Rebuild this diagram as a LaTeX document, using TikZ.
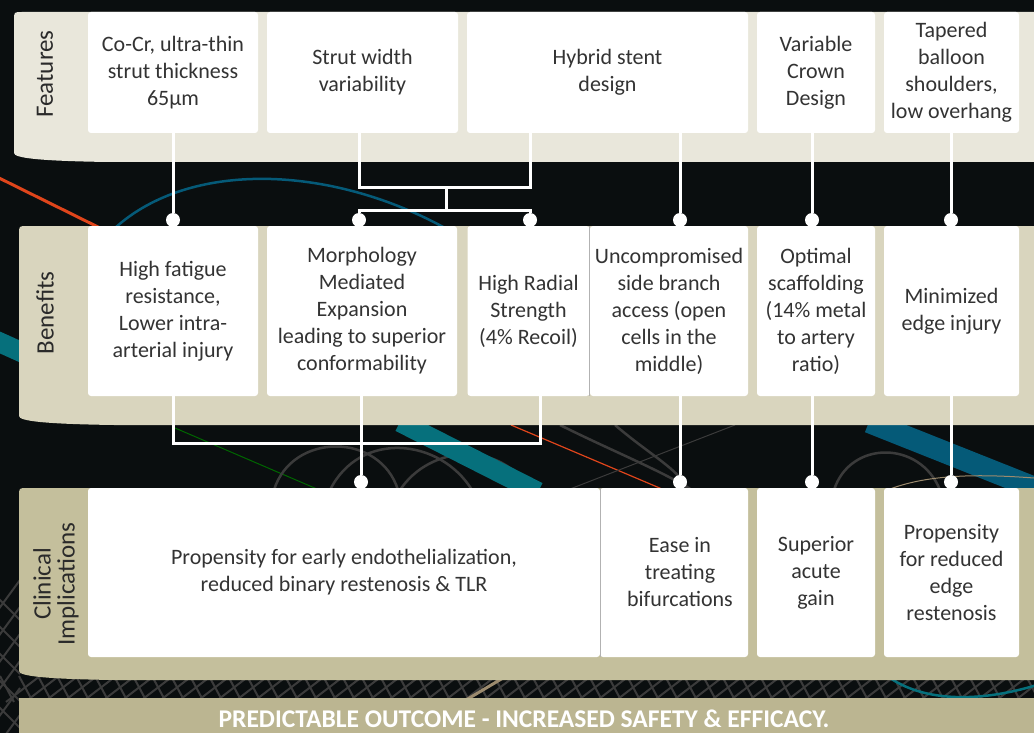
\documentclass[tikz,border=0pt]{standalone}
\usepackage{fontspec}
\setmainfont{Carlito}

\definecolor{bgblack}{HTML}{0A0E0F}
\definecolor{featband}{HTML}{E9E7DB}
\definecolor{benband}{HTML}{D9D5BE}
\definecolor{clinband}{HTML}{C4BF9C}
\definecolor{outband}{HTML}{BBB591}
\definecolor{txtgray}{HTML}{333333}
\definecolor{sidegray}{HTML}{2A2A2A}
\definecolor{tealdark}{HTML}{06707C}
\definecolor{tealblue}{HTML}{055A78}
\definecolor{redline}{HTML}{E0451B}
\definecolor{arcgray}{HTML}{3B3B3B}
\definecolor{tanline}{HTML}{9C8B6E}

% band with rounded top left corner and swept lower left corner: x0, ytop, ybot, colour
\newcommand{\bandshape}[4]{%
  \fill[#4] (#1,#3-9) -- (#1,#2+8) .. controls (#1,#2) .. (#1+8,#2) -- (1040,#2) -- (1040,#3)
    -- (#1+95,#3) .. controls (#1+25,#3-1) and (#1,#3-4) .. cycle;}

\begin{document}
\begin{tikzpicture}[x=1pt, y=-1pt,
    box/.style={fill=white, rounded corners=3pt, align=center, text=txtgray, inner sep=0pt,
      font=\fontsize{22}{27}\selectfont},
    side/.style={rotate=90, align=center, text=sidegray, font=\fontsize{25}{24}\selectfont},
    link/.style={draw=white, line width=3pt},
    dot/.style={circle, fill=white, inner sep=0pt, minimum size=14pt},
    divider/.style={draw=gray!60, line width=1.2pt},
    arcline/.style={draw=arcgray, line width=2.5pt},
    hatch/.style={draw=arcgray, line width=2pt}]
  \useasboundingbox (0,0) rectangle (1034,733);
  \fill[bgblack] (0,0) rectangle (1034,733);

  \begin{scope}
    \clip (0,0) rectangle (1034,733);
    % background streaks
    \draw[redline, line width=3pt] (-5,176) -- (100,228);
    \draw[tealblue, line width=2.5pt] (115,228) .. controls (190,160) and (330,165) .. (445,228);
    \draw[tealdark, line width=20pt] (-10,338) -- (30,356);
    \draw[green!40!black, line width=1pt] (175,428) -- (317,489);
    \draw[arcline] (274,490) .. controls (292,432) and (380,432) .. (398,490);
    \draw[arcline] (330,490) .. controls (360,430) and (440,438) .. (472,490);
    \draw[arcline] (400,490) .. controls (430,445) and (500,440) .. (530,490);
    \draw[arcline] (560,425) .. controls (610,450) and (660,470) .. (692,490);
    \draw[arcline] (615,425) .. controls (650,455) and (680,470) .. (688,490);
    \draw[arcline] (834,490) .. controls (850,440) and (920,440) .. (940,490);
    \draw[tealdark, line width=20pt] (400,422) -- (538,492);
    \draw[redline, line width=1.2pt] (511,425) -- (662,489);
    \draw[arcgray, line width=1pt] (735,425) -- (570,489);
    \draw[tealblue, line width=22pt] (869,422) -- (1045,492);
    \draw[tanline, line width=1pt] (890,489) .. controls (930,474) and (980,474) .. (1034,478);
    % hatching below the clinical band and in the left margin
    \foreach \x in {0,19,...,1040}
      {\draw[hatch] (\x,676) -- (\x+14,702);
       \draw[hatch] (\x+6,702) -- (\x+40,676);}
    \foreach \y in {610,637,...,760}
      {\draw[hatch] (-2,\y) -- (20,\y-30);
       \draw[hatch] (-2,\y-12) -- (20,\y+10);}
    \draw[tanline, line width=3pt] (503,678) -- (466,700);
    \draw[tealdark, line width=2.5pt] (890,678) .. controls (930,705) and (990,700) .. (1040,684);

    % bands
    \bandshape{14}{12}{162}{featband}
    \bandshape{19}{226}{425}{benband}
    \bandshape{19}{488}{680}{clinband}
    \fill[outband] (19,698) rectangle (1040,740);
  \end{scope}

  % side labels
  \node[side] (feat) at (45,74) {Features};
  \node[side] (ben) at (45,313) {Benefits};
  \node[side] (clin) at (56,584) {Clinical\\Implications};

  % features
  \node[box, minimum width=170pt, minimum height=121pt] (f1) at (173,72.5) {Co-Cr, ultra-thin\\strut thickness\\65µm};
  \node[box, minimum width=191pt, minimum height=121pt] (f2) at (362.5,72.5) {Strut width\\variability};
  \node[box, minimum width=281pt, minimum height=121pt] (f3) at (607.5,72.5) {Hybrid stent\\design};
  \node[box, minimum width=118pt, minimum height=121pt] (f4) at (816,72.5) {Variable\\Crown\\Design};
  \node[box, minimum width=135pt, minimum height=121pt] (f5) at (951.5,72.5) {Tapered\\balloon\\shoulders,\\low overhang};

  % benefits
  \node[box, minimum width=170pt, minimum height=170pt] (b1) at (173,311) {High fatigue\\resistance,\\Lower intra-\\arterial injury};
  \node[box, minimum width=190pt, minimum height=170pt] (b2) at (362,311) {Morphology\\Mediated\\Expansion\\leading to superior\\conformability};
  \node[box, minimum width=122pt, minimum height=170pt] (b3) at (528.5,311) {High Radial\\Strength\\(4\% Recoil)};
  \node[box, minimum width=158pt, minimum height=170pt] (b4) at (669,311) {Uncompromised\\side branch\\access (open\\cells in the\\middle)};
  \node[box, minimum width=118pt, minimum height=170pt] (b5) at (816,311) {Optimal\\scaffolding\\(14\% metal\\to artery\\ratio)};
  \node[box, minimum width=135pt, minimum height=170pt] (b6) at (951.5,311) {Minimized\\edge injury};
  \draw[divider] (b3.north east) -- (b3.south east);

  % clinical implications
  \node[box, minimum width=512pt, minimum height=169pt] (c1) at (344,572.5) {Propensity for early endothelialization,\\reduced binary restenosis \& TLR};
  \node[box, minimum width=148pt, minimum height=169pt] (c2) at (674,572.5) {\hspace*{12pt}Ease in\\\hspace*{12pt}treating\\\hspace*{12pt}bifurcations};
  \node[box, minimum width=118pt, minimum height=169pt] (c3) at (816,572.5) {Superior\\acute\\gain};
  \node[box, minimum width=135pt, minimum height=169pt] (c4) at (951.5,572.5) {Propensity\\for reduced\\edge\\restenosis};
  \draw[divider] (c1.north east) -- (c1.south east);

  \node[text=white, font=\bfseries\fontsize{25.5}{27}\selectfont] (outcome) at (524,719)
    {PREDICTABLE OUTCOME - INCREASED SAFETY \& EFFICACY.};

  % dots on the benefit and clinical boxes
  \node[dot] (d1) at (173,220) {};
  \node[dot] (d2) at (359,220) {};
  \node[dot] (d3) at (530,220) {};
  \node[dot] (d4) at (680,220) {};
  \node[dot] (d5) at (812,220) {};
  \node[dot] (d6) at (951,220) {};
  \node[dot] (e1) at (361,482) {};
  \node[dot] (e2) at (680,482) {};
  \node[dot] (e3) at (812,482) {};
  \node[dot] (e4) at (951,482) {};
  \coordinate (fj) at (446,188);
  \coordinate (bj) at (446,210);
  \coordinate (bk) at (540,443);

  \def\featdrops {f1/d1, f3/d4, f4/d5, f5/d6}  % feature -> benefit
  \foreach \u\v in \featdrops
  {	\draw[link] (\v |- \u.south) -- (\v);}

  \def\bendrops {b2/e1, b4/e2, b5/e3, b6/e4}  % benefit -> implication
  \foreach \u\v in \bendrops
  {	\draw[link] (\v |- \u.south) -- (\v);}

  % brackets
  \draw[link] (d2 |- f2.south) |- (fj) -| (d3 |- f3.south);
  \draw[link] (fj) -- (bj);
  \draw[link] (d2) |- (bj) -| (d3);
  \draw[link] (b1.south) |- (bk) -- (bk |- b3.south);
\end{tikzpicture}
\end{document}
